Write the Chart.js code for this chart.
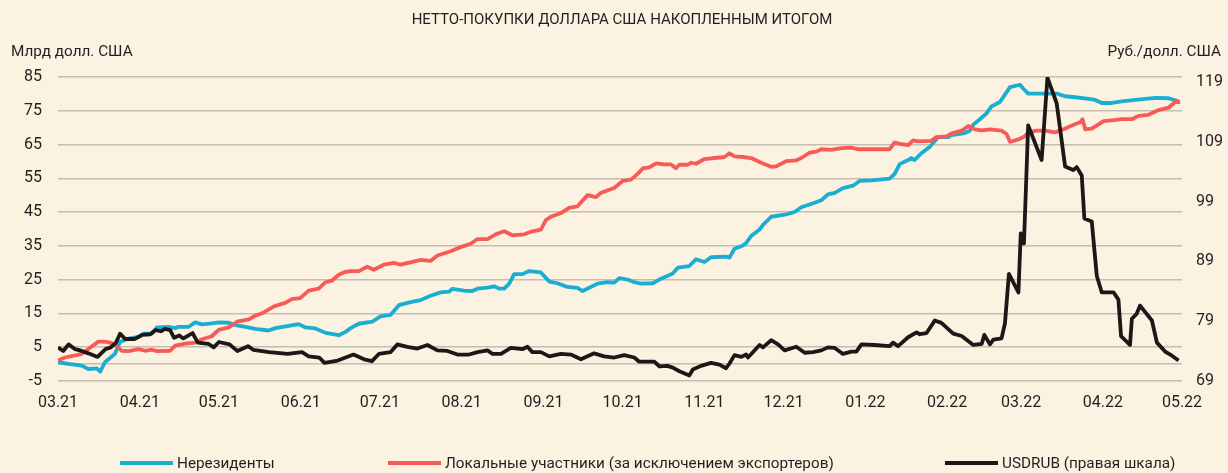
<!DOCTYPE html>
<html>
<head>
<meta charset="utf-8">
<script src="https://cdn.jsdelivr.net/npm/chart.js@4.4.1/dist/chart.umd.min.js"></script>
<style>
  html, body { margin: 0; padding: 0; background: #fcf2e2; }
  #wrap { width: 1228px; height: 473px; position: relative; }
</style>
</head>
<body>
<div id="wrap"><canvas id="chart" width="1228" height="473"></canvas></div>
<script>
// ---- Texts ----
const chartTitle = 'НЕТТО-ПОКУПКИ ДОЛЛАРА США НАКОПЛЕННЫМ ИТОГОМ';
const leftAxisTitle = 'Млрд долл. США';
const rightAxisTitle = 'Руб./долл. США';
const seriesNames = ['Нерезиденты', 'Локальные участники (за исключением экспортеров)', 'USDRUB (правая шкала)'];

// ---- Tick labels (x = days since 01.03.2021) ----
const monthTickDays = [0, 31, 61, 92, 122, 153, 184, 214, 245, 275, 306, 337, 365, 396, 426];
const monthTickLabels = ['03.21', '04.21', '05.21', '06.21', '07.21', '08.21', '09.21', '10.21', '11.21', '12.21', '01.22', '02.22', '03.22', '04.22', '05.22'];
const leftTicks = [-5, 0, 5, 15, 25, 35, 45, 55, 65, 75, 85];
const rightTicks = [69, 79, 89, 99, 109, 119];

// ---- Нерезиденты, млрд долл. ----
const nonresidentDays = [0, 4, 9, 11.5, 14.7, 16, 17.8, 21.6, 23.5, 26.7, 30.5, 32.4, 35.6, 37.5, 41.9, 44.4, 45.7, 49.5, 52, 54.6, 58.3, 60.9, 64.7, 67.2, 71, 74.8, 79.8, 82.4, 87.4, 91.2, 93.8, 97.6, 101.4, 106.4, 109, 110.9, 114, 119.1, 122.2, 126, 129.2, 133.6, 137.4, 141.2, 145, 148.2, 149.4, 153.9, 157, 159, 162.8, 165.3, 167.2, 169.1, 171, 172.9, 176, 178.6, 183, 186.2, 189.3, 193.1, 196.9, 198.8, 204.5, 208.3, 210.8, 212.7, 215.9, 218.4, 221, 225.4, 227.9, 233, 234.9, 239.3, 241.8, 245, 247.5, 253.2, 254.5, 256.4, 259.6, 260.8, 262.7, 265.9, 267.2, 270.3, 275.4, 279.2, 281.7, 286.2, 289.3, 291.8, 294.4, 297.5, 301.3, 303.8, 308.3, 315.2, 317.1, 319, 322.2, 323.4, 324.7, 327.2, 330.4, 333.6, 337.4, 338.7, 343.7, 345.6, 346.9, 349.4, 351.9, 353.8, 357, 360.8, 364.6, 365.8, 367.7, 378.5, 381.7, 385.5, 390.6, 393.1, 395.6, 399.4, 403.2, 408.3, 415.9, 420.9, 424.7];
const nonresidentValues = [0.5, 0.0, -0.5, -1.5, -1.3, -2.3, 0.5, 3.0, 6.5, 7.5, 8.0, 9.0, 9.0, 10.8, 11.0, 10.6, 11.0, 11.0, 12.3, 11.7, 12.0, 12.3, 12.2, 11.5, 11.0, 10.4, 9.9, 10.6, 11.3, 11.8, 10.8, 10.5, 9.2, 8.5, 9.5, 10.6, 11.9, 12.5, 14.1, 14.5, 17.4, 18.3, 18.9, 20.2, 21.2, 21.4, 22.2, 21.7, 21.6, 22.3, 22.6, 23.0, 22.3, 22.3, 23.8, 26.6, 26.6, 27.5, 27.1, 24.4, 23.9, 22.8, 22.5, 21.6, 23.8, 24.2, 24.1, 25.4, 25.0, 24.2, 23.8, 23.9, 25.0, 26.8, 28.5, 29.0, 31.0, 30.2, 31.6, 31.8, 31.5, 34.1, 35.1, 35.8, 37.9, 39.8, 41.2, 43.6, 44.2, 45.0, 46.4, 47.6, 48.5, 50.2, 50.7, 52.1, 52.8, 54.2, 54.4, 54.9, 56.3, 59.2, 60.4, 61.0, 60.4, 62.4, 64.3, 67.2, 67.2, 67.8, 68.4, 69.1, 70.9, 72.5, 74.2, 76.3, 77.6, 82.0, 82.7, 81.6, 80.1, 80.1, 79.3, 79.0, 78.5, 78.2, 77.3, 77.3, 77.8, 78.2, 78.8, 78.7, 77.8];

// ---- Локальные участники, млрд долл. ----
const localDays = [0, 2.7, 6.5, 9, 11.5, 15.3, 17.8, 19.7, 21.6, 24.1, 26.7, 30.5, 33.1, 35.6, 37.5, 42.5, 44.4, 48.2, 52, 54.6, 58.3, 60.9, 64.7, 67.8, 72.3, 74.8, 77.3, 81.7, 86.1, 88.6, 91.8, 95, 98.8, 101.4, 103.9, 106.4, 109, 110.9, 114, 117.2, 119.7, 123.5, 127.3, 129.8, 133.6, 137.4, 141.2, 143.8, 148.8, 152.6, 156.4, 159, 162.8, 165.9, 169.1, 172.2, 176.7, 179.8, 183, 184.9, 186.8, 190.6, 193.7, 196.9, 200.7, 203.9, 205.8, 210.8, 214, 217.2, 219.7, 221.6, 224.1, 226.7, 229.8, 232.3, 234.2, 235.5, 238.7, 239.9, 241.8, 245, 248.8, 252.6, 254.5, 256.4, 259.6, 262.7, 266.5, 270.3, 272.2, 276, 279.8, 281.7, 284.9, 287.4, 289.3, 293.1, 296.9, 300.7, 303.2, 315.2, 317.1, 319, 322.2, 324.1, 326, 331, 332.9, 336.7, 338.7, 342.5, 345, 347.5, 350.1, 353.2, 357.6, 359.5, 360.8, 364, 366.5, 367.7, 370.9, 374.1, 377.9, 381.1, 384.2, 387.4, 388.3, 389.3, 391.8, 396.3, 400.1, 403.2, 407, 409.5, 413.3, 417.1, 420.9, 423.4, 425.3];
const localValues = [1.1, 1.9, 2.5, 3.0, 4.4, 6.6, 6.6, 6.3, 5.8, 3.9, 3.8, 4.4, 3.9, 4.2, 3.8, 3.9, 5.4, 6.0, 6.3, 7.3, 8.2, 10.1, 10.8, 12.5, 13.2, 14.3, 15.0, 17.0, 18.1, 19.2, 19.5, 21.7, 22.3, 24.2, 24.7, 26.4, 27.3, 27.5, 27.5, 28.8, 27.9, 29.4, 29.9, 29.4, 30.1, 30.8, 30.5, 32.1, 33.4, 34.6, 35.6, 37.0, 37.0, 38.4, 39.3, 38.1, 38.4, 39.3, 39.8, 42.6, 43.6, 44.7, 46.2, 46.7, 50.0, 49.4, 50.7, 52.1, 54.2, 54.6, 56.3, 57.9, 58.2, 59.4, 59.1, 59.1, 58.0, 59.0, 59.0, 59.6, 59.3, 60.7, 61.0, 61.3, 62.4, 61.5, 61.3, 61.0, 59.6, 58.4, 58.5, 60.1, 60.3, 61.0, 62.6, 62.9, 63.6, 63.4, 63.9, 64.1, 63.6, 63.6, 65.6, 65.2, 64.8, 66.2, 65.9, 66.1, 67.2, 67.4, 68.3, 69.1, 70.5, 69.5, 69.2, 69.5, 69.1, 68.1, 65.8, 66.5, 67.5, 68.6, 69.1, 69.1, 68.6, 69.5, 70.6, 71.6, 72.5, 69.5, 69.7, 71.9, 72.2, 72.5, 72.5, 73.5, 73.8, 75.2, 75.9, 77.6, 77.6];

// ---- USDRUB, руб./долл. (правая шкала) ----
const usdrubDays = [0, 2, 4, 6.5, 9, 11.5, 15, 18, 20, 22, 23.5, 25.5, 29, 32, 35, 37, 39, 40.5, 42.5, 44, 46, 47.5, 51, 53, 57, 59, 61, 65, 68, 72, 74, 80, 87, 92.5, 95, 99, 101, 106, 109, 112, 116, 119, 121.6, 126, 128.6, 132.4, 136.2, 140, 143.8, 147.6, 151.4, 155.8, 159, 162.8, 164.7, 167.9, 171.6, 176, 177.9, 179.8, 183, 186.2, 190.6, 194.4, 198.2, 203.2, 207, 210.8, 214.6, 218.4, 220.3, 226, 228, 231, 233, 235.5, 239.3, 240.6, 243.7, 247.5, 250.7, 253.2, 254.5, 256.4, 259, 260.8, 261.5, 265.9, 267.2, 268.5, 270.3, 272.9, 275.4, 279.8, 283, 286.2, 289.3, 291.8, 294.4, 297.5, 300.7, 302.6, 304.5, 309.5, 315.2, 316.5, 318.4, 322.2, 325.4, 326.6, 329.2, 332.3, 334.8, 339.3, 342.5, 346.9, 350.1, 351.1, 353.2, 354.5, 357.6, 358.9, 360.4, 364, 364.9, 366.1, 367.7, 372.8, 375, 378.5, 381.7, 384.8, 386.1, 388, 389, 391.8, 393.7, 395.6, 400.1, 401.9, 402.9, 406.3, 407, 408.8, 410.1, 414.6, 416.5, 419.6, 422.2, 424.7];
const usdrubValues = [74.6, 74.0, 75.1, 74.3, 74.0, 73.6, 73.0, 74.3, 74.6, 75.4, 76.9, 76.0, 76.0, 76.7, 76.8, 77.5, 77.3, 77.7, 77.5, 76.2, 76.6, 76.1, 77.0, 75.4, 75.2, 74.6, 75.5, 75.1, 74.0, 74.8, 74.2, 73.8, 73.5, 73.8, 73.1, 72.9, 72.0, 72.4, 72.9, 73.4, 72.6, 72.3, 73.5, 73.8, 75.1, 74.7, 74.4, 75.0, 74.1, 74.0, 73.4, 73.4, 73.8, 74.1, 73.5, 73.5, 74.5, 74.3, 74.7, 73.8, 73.8, 73.1, 73.5, 73.4, 72.6, 73.6, 73.1, 72.9, 73.3, 72.9, 72.2, 72.2, 71.4, 71.5, 71.2, 70.6, 69.9, 70.9, 71.5, 72.0, 71.7, 71.1, 71.9, 73.3, 73.0, 73.4, 72.9, 75.0, 74.6, 75.1, 75.8, 75.1, 74.1, 74.7, 73.7, 73.8, 74.1, 74.6, 74.5, 73.5, 73.9, 73.9, 75.1, 75.0, 74.8, 75.4, 74.8, 76.3, 77.1, 76.8, 77.0, 79.1, 78.7, 76.9, 76.5, 75.0, 75.2, 76.7, 75.1, 75.9, 76.1, 78.6, 86.9, 83.8, 93.7, 92.0, 111.8, 106.0, 119.8, 115.5, 104.9, 104.3, 104.8, 103.4, 96.2, 95.7, 86.6, 83.8, 83.8, 82.6, 76.5, 75.0, 79.4, 80.2, 81.6, 79.1, 75.4, 73.9, 73.2, 72.4];

// ---- Build chart ----
const FONT = 'Roboto, "Liberation Sans", Arial, sans-serif';
const TEXT = '#231f20';
const toPoints = (xs, ys) => xs.map((x, i) => ({ x: x, y: ys[i] }));

const decor = {
  id: 'decor',
  beforeDraw(chart) {
    const ctx = chart.ctx;
    ctx.save();
    ctx.fillStyle = '#fcf2e2';
    ctx.fillRect(0, 0, chart.width, chart.height);
    ctx.restore();
  },
  afterDraw(chart) {
    const ctx = chart.ctx;
    ctx.save();
    ctx.fillStyle = TEXT;
    ctx.textBaseline = 'middle';
    // title
    ctx.font = '15px ' + FONT;
    ctx.textAlign = 'center';
    ctx.fillText(chartTitle, 622, 20);
    // axis titles
    ctx.font = '15.3px ' + FONT;
    ctx.textAlign = 'left';
    ctx.fillText(leftAxisTitle, 11, 52);
    ctx.textAlign = 'right';
    ctx.fillText(rightAxisTitle, chart.width - 7, 52);
    // legend
    const starts = [120, 388, 945];
    const y = 463;
    chart.data.datasets.forEach((ds, i) => {
      const x = starts[i];
      ctx.strokeStyle = ds.borderColor;
      ctx.lineWidth = 4;
      ctx.lineCap = 'butt';
      ctx.beginPath();
      ctx.moveTo(x, y);
      ctx.lineTo(x + 53, y);
      ctx.stroke();
      ctx.textAlign = 'left';
      ctx.fillStyle = TEXT;
      ctx.fillText(ds.label, x + 57, y + 1);
    });
    ctx.restore();
  }
};

new Chart(document.getElementById('chart'), {
  type: 'line',
  data: {
    datasets: [
      { label: seriesNames[0], data: toPoints(nonresidentDays, nonresidentValues), yAxisID: 'y', borderColor: '#1aaed1', order: 2 },
      { label: seriesNames[1], data: toPoints(localDays, localValues), yAxisID: 'y', borderColor: '#f85b56', order: 1 },
      { label: seriesNames[2], data: toPoints(usdrubDays, usdrubValues), yAxisID: 'y2', borderColor: '#1c1818', order: 0 }
    ]
  },
  options: {
    responsive: false,
    animation: false,
    devicePixelRatio: 1,
    datasets: { line: { borderWidth: 3.8, pointRadius: 0, tension: 0, borderJoinStyle: 'round', fill: false } },
    layout: { padding: { left: 0, right: 0, top: 77, bottom: 55 } },
    plugins: {
      legend: { display: false },
      tooltip: { enabled: false },
      title: { display: false }
    },
    scales: {
      x: {
        type: 'linear',
        min: 0,
        max: 426,
        afterBuildTicks: (s) => { s.ticks = monthTickDays.map(v => ({ value: v })); },
        grid: { display: false },
        border: { display: false },
        ticks: {
          autoSkip: false,
          maxRotation: 0,
          padding: 5,
          color: TEXT,
          font: { family: FONT, size: 16 },
          callback: (v) => { const i = monthTickDays.indexOf(v); return i >= 0 ? monthTickLabels[i] : ''; }
        }
      },
      y: {
        position: 'left',
        min: -5,
        max: 85,
        afterBuildTicks: (s) => { s.ticks = leftTicks.map(v => ({ value: v })); },
        afterFit: (s) => { s.width = 58; },
        grid: { color: '#c6bdb1', lineWidth: 1.5, drawTicks: false },
        border: { display: false },
        ticks: {
          autoSkip: false,
          padding: 16,
          color: TEXT,
          font: { family: FONT, size: 16 },
          callback: (v) => (v === 0 ? '' : String(v))
        }
      },
      y2: {
        position: 'right',
        min: 69,
        max: 119.9,
        afterBuildTicks: (s) => { s.ticks = rightTicks.map(v => ({ value: v })); },
        afterFit: (s) => { s.width = 46; },
        grid: { display: false, drawTicks: false },
        border: { display: false },
        ticks: {
          autoSkip: false,
          padding: 14,
          color: TEXT,
          font: { family: FONT, size: 16 }
        }
      }
    }
  },
  plugins: [decor]
});
</script>
</body>
</html>
